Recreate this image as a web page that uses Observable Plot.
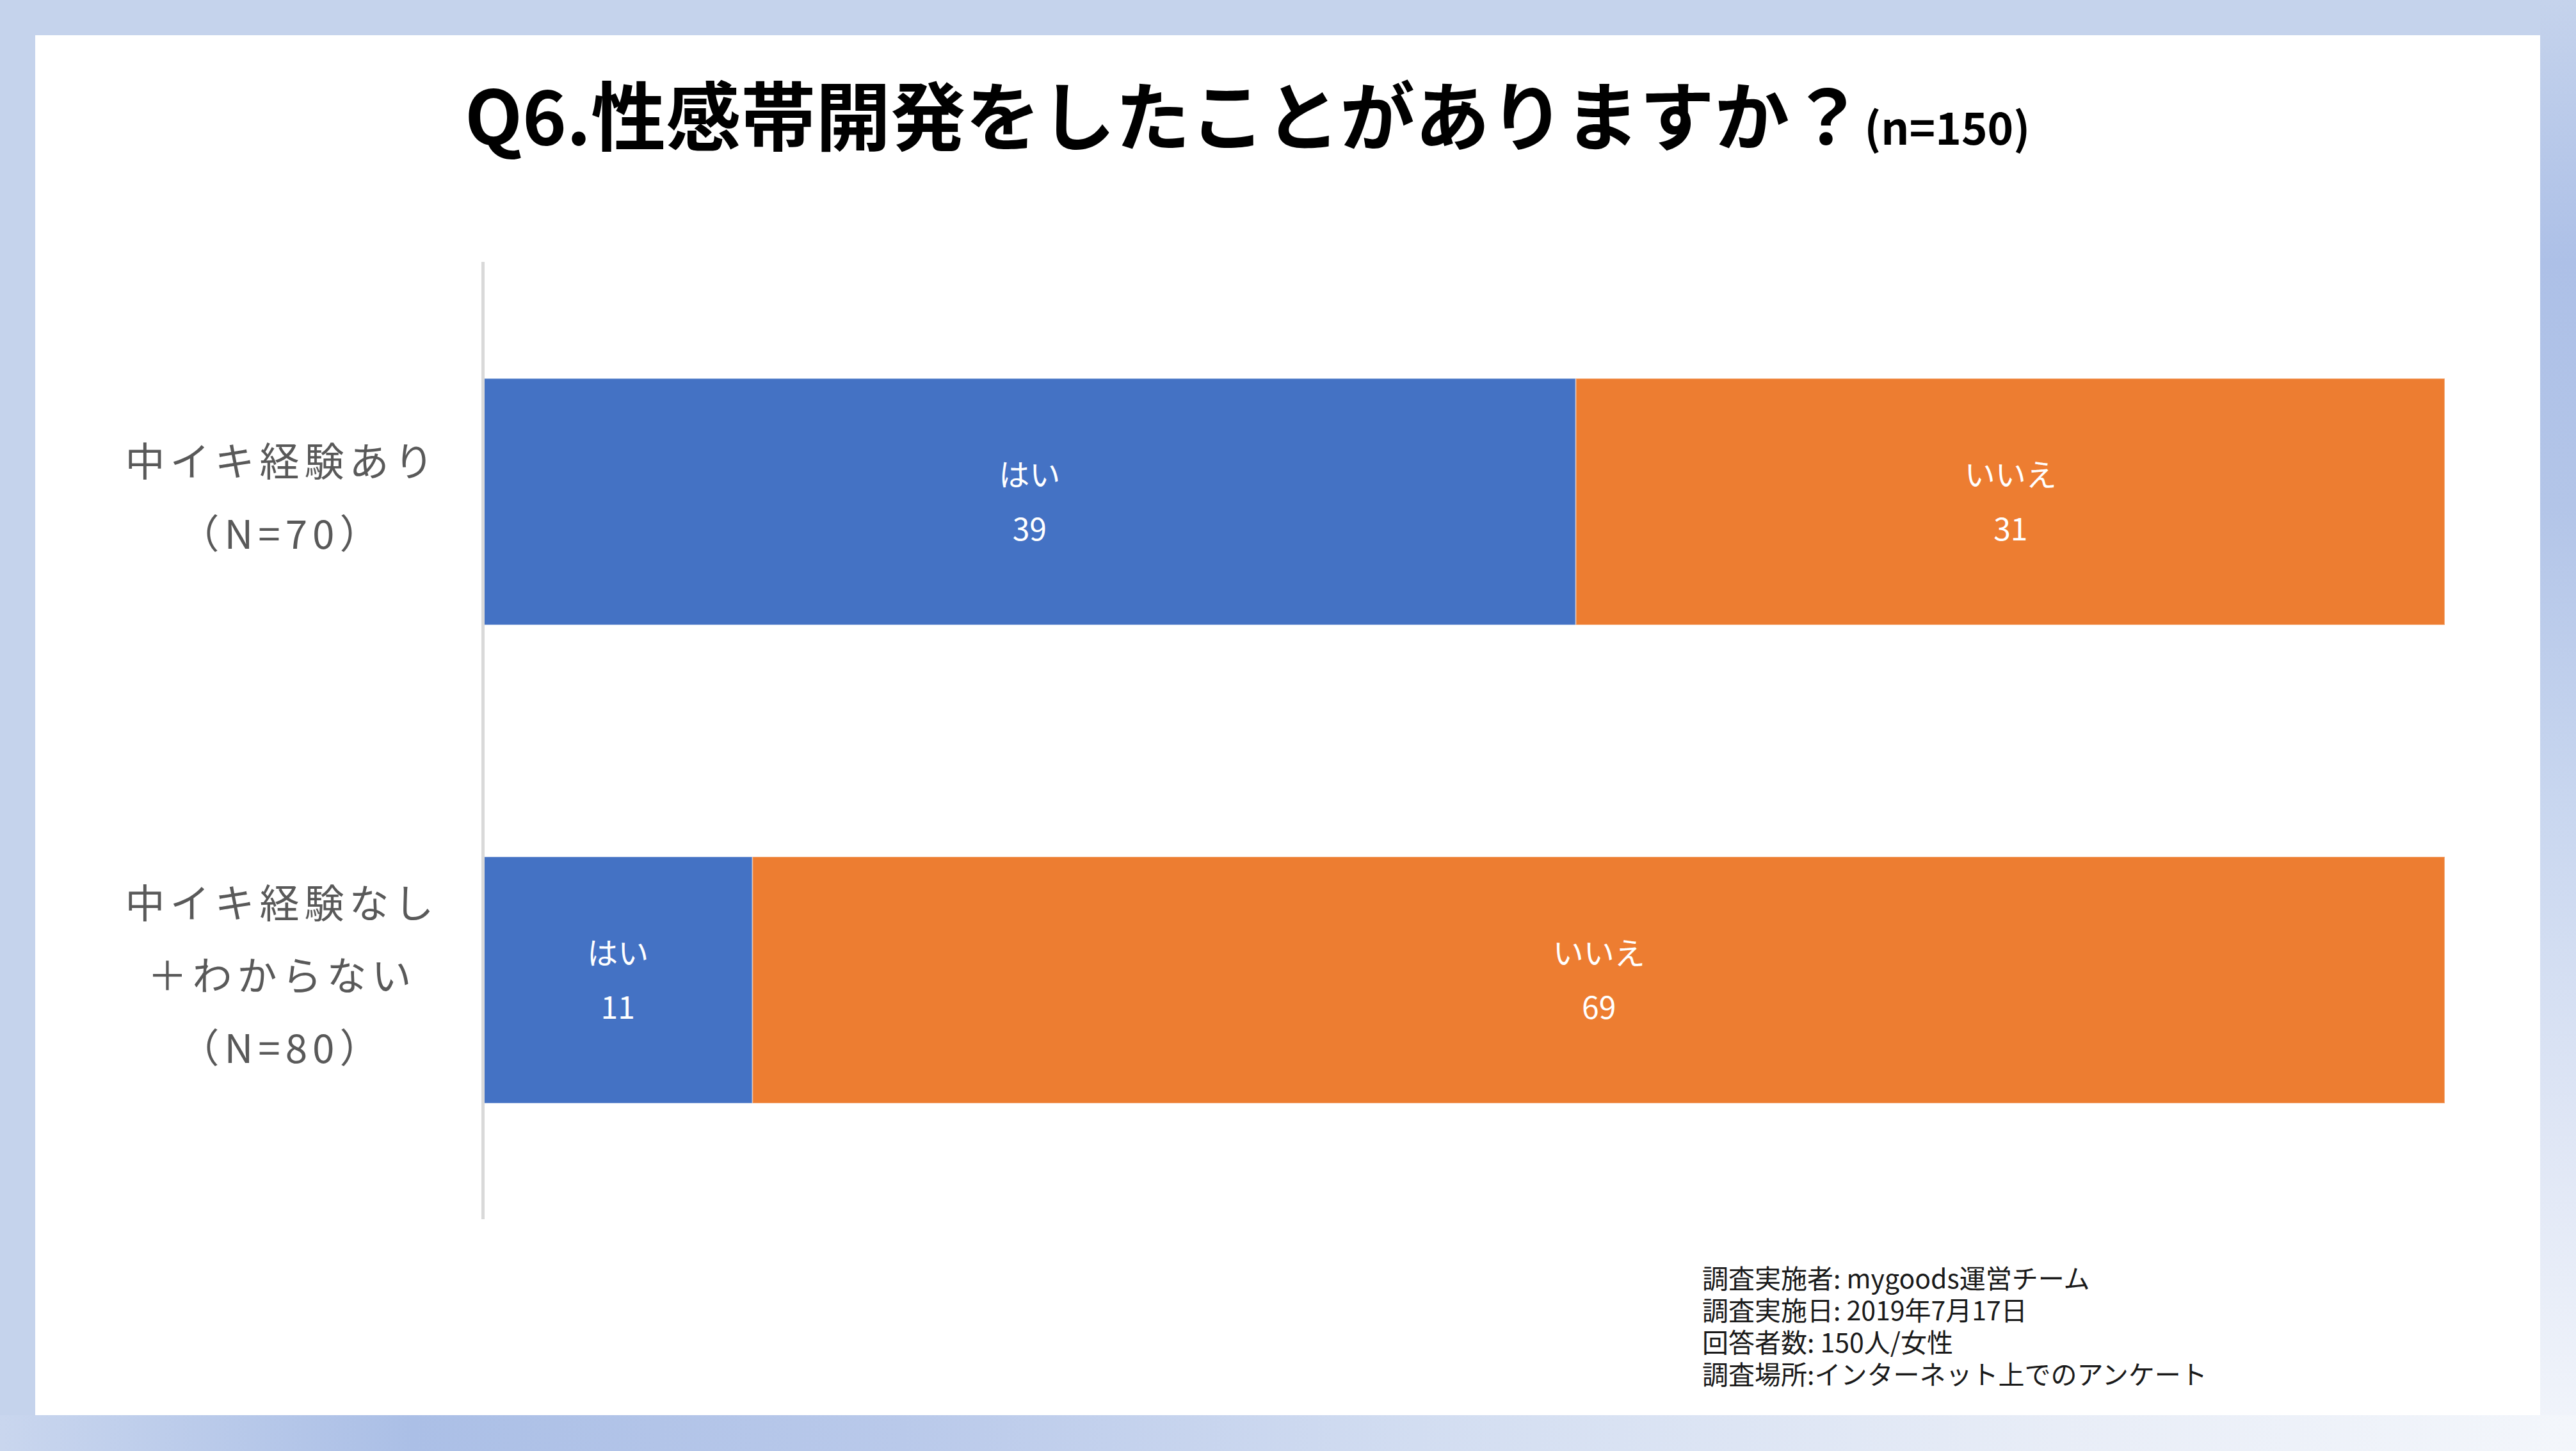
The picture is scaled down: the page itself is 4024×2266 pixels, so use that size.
<!DOCTYPE html>
<html>
<head>
<meta charset="utf-8">
<script src="https://cdn.jsdelivr.net/npm/d3@7"></script>
<script src="https://cdn.jsdelivr.net/npm/@observablehq/plot@0.6"></script>
<style>
  html, body { margin: 0; padding: 0; }
  body { width: 4024px; height: 2266px; position: relative; overflow: hidden; background: #c5d3ec; font-family: "Noto Sans CJK JP", sans-serif; }
  #rightStrip { position: absolute; left: 3968px; top: 0; width: 56px; height: 2266px;
    background: linear-gradient(to bottom, #c5d3ec 0%, #adc0e7 18%, #b3c5e8 35%, #c8d6ef 55%, #dfe6f5 78%, #f2f5fb 100%); }
  #bottomStrip { position: absolute; left: 0; top: 2210px; width: 4024px; height: 56px;
    background: linear-gradient(to right, #c9d6ee 0%, #abbfe6 16%, #b9c9ea 35%, #d2ddf1 55%, #e8edf7 80%, #f3f6fb 100%); }
  #panel { position: absolute; left: 55px; top: 55px; width: 3913px; height: 2155px; background: #fff; }
  #chart { position: absolute; left: 0; top: 0; }
  #title { position: absolute; left: 671px; top: 50px; white-space: nowrap; font-weight: 700; color: #000; font-size: 117px; line-height: 140px; }
  #title small { font-size: 69px; }
  #note { position: absolute; left: 2604px; top: 1914px; font-size: 41px; line-height: 50px; color: #1a1a1a; white-space: pre; }
  g[aria-label="y-axis tick label"] text { letter-spacing: 8px; }
</style>
</head>
<body>
<div id="rightStrip"></div>
<div id="bottomStrip"></div>
<div id="panel">
  <div id="chart"></div>
  <div id="title">Q6.性感帯開発をしたことがありますか？<small>(n=150)</small></div>
  <div id="note"></div>
</div>
<script>
const groups = ["中イキ経験あり\n（N=70）", "中イキ経験なし\n＋わからない\n（N=80）"];
const answers = ["はい", "いいえ"];
const yesValues = [39, 11];
const noValues = [31, 69];
const noteLines = [
  "調査実施者: mygoods運営チーム",
  "調査実施日: 2019年7月17日",
  "回答者数: 150人/女性",
  "調査場所:インターネット上でのアンケート"
];

const rows = [];
groups.forEach((g, i) => {
  rows.push({group: g, answer: answers[0], value: yesValues[i]});
  rows.push({group: g, answer: answers[1], value: noValues[i]});
});

const chart = Plot.plot({
  width: 3913,
  height: 2155,
  marginLeft: 699,
  marginRight: 149,
  marginTop: 354,
  marginBottom: 306,
  style: {fontFamily: "'Noto Sans CJK JP', sans-serif", background: "transparent"},
  x: {axis: null, domain: [0, 1]},
  y: {domain: groups, paddingInner: 0.485, paddingOuter: 0.243, label: null},
  color: {domain: answers, range: ["#4472c4", "#ed7d31"]},
  marks: [
    Plot.barX(rows, Plot.stackX({x: "value", y: "group", fill: "answer", z: "answer", offset: "normalize", stroke: "#ffffff", strokeOpacity: 0.35, strokeWidth: 2})),
    Plot.text(rows, Plot.stackX({x: "value", y: "group", z: "answer", offset: "normalize",
      text: d => d.answer + "\n" + d.value, fill: "white", fontSize: 48, lineHeight: 1.77, dy: -10})),
    Plot.ruleX([0], {stroke: "#d9d9d9", strokeWidth: 5}),
    Plot.axisY({tickSize: 0, tickPadding: 314, textAnchor: "middle", fontSize: 62, lineHeight: 1.82, dy: -20, fill: "#595959", label: null})
  ]
});
document.getElementById("chart").appendChild(chart);
document.getElementById("note").textContent = noteLines.join("\n");
</script>
</body>
</html>
